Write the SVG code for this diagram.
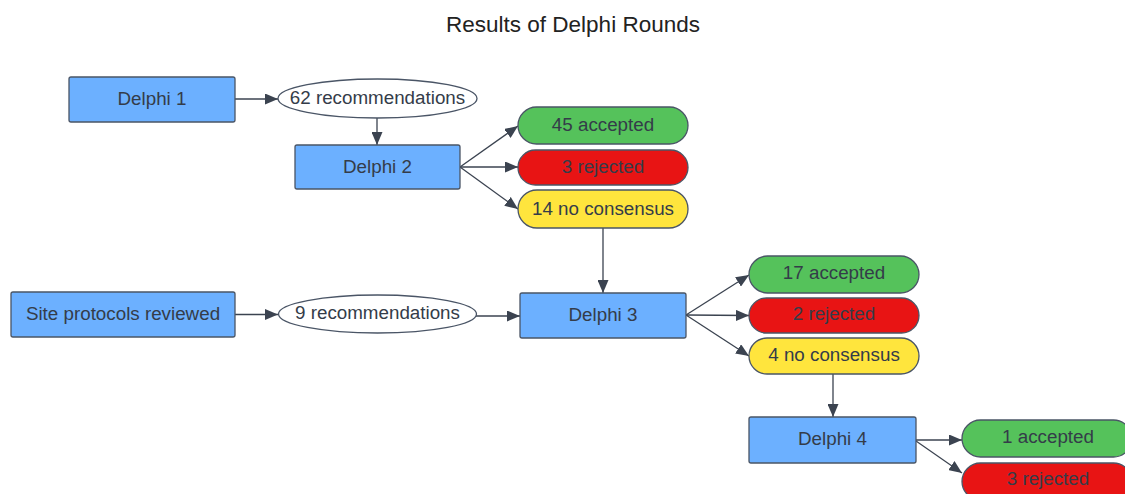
<svg xmlns="http://www.w3.org/2000/svg" width="1125" height="494" viewBox="0 0 1125 494">
<defs>
<marker id="ah" viewBox="0 0 13 11" refX="13" refY="5.5" markerWidth="13" markerHeight="11" markerUnits="userSpaceOnUse" orient="auto">
<path d="M0,0 L13,5.5 L0,11 Z" fill="#3b4350"/>
</marker>
<style>
text{font-family:"Liberation Sans",Arial,sans-serif;font-size:18.8px;fill:#343c49;text-anchor:middle;dominant-baseline:central}
.box{fill:#6cb0ff;stroke:#4a5566;stroke-width:1.3}
.oval{fill:#ffffff;stroke:#4a5566;stroke-width:1.3}
.acc{fill:#55c25b;stroke:#4a5566;stroke-width:1.3}
.rej{fill:#e81414;stroke:#4a5566;stroke-width:1.3}
.nc{fill:#ffe53d;stroke:#4a5566;stroke-width:1.3}
.c{stroke:#3b4350;stroke-width:1.3;fill:none;marker-end:url(#ah)}
.title{font-size:22.5px;fill:#222222}
</style>
</defs>
<rect width="1125" height="494" fill="#ffffff"/>
<text class="title" x="573" y="24">Results of Delphi Rounds</text>

<g id="connectors">
<line class="c" x1="235" y1="99" x2="278" y2="99"/>
<line class="c" x1="377" y1="118" x2="377" y2="145"/>
<line class="c" x1="460" y1="167" x2="518" y2="126"/>
<line class="c" x1="460" y1="167" x2="518" y2="167"/>
<line class="c" x1="460" y1="167" x2="518" y2="209"/>
<line class="c" x1="603" y1="228" x2="603" y2="293"/>
<line class="c" x1="235" y1="314.5" x2="278" y2="314.5"/>
<line class="c" x1="476" y1="316" x2="520" y2="316"/>
<line class="c" x1="686" y1="315" x2="749" y2="275"/>
<line class="c" x1="686" y1="315" x2="749" y2="315.5"/>
<line class="c" x1="686" y1="315" x2="749" y2="356"/>
<line class="c" x1="833" y1="374" x2="833" y2="417"/>
<line class="c" x1="916" y1="440" x2="962" y2="440"/>
<line class="c" x1="916" y1="441" x2="962" y2="473"/>
</g>

<g id="delphi1"><rect class="box" x="69" y="77" width="166" height="45" rx="2"/><text x="152" y="98.5">Delphi 1</text></g>
<g id="rec62"><ellipse class="oval" cx="377.5" cy="98.5" rx="99.5" ry="19.5"/><text x="377.5" y="97.5">62 recommendations</text></g>
<g id="delphi2"><rect class="box" x="295" y="145" width="165" height="44" rx="2"/><text x="377.5" y="166">Delphi 2</text></g>
<g id="acc45"><rect class="acc" x="518" y="107" width="170" height="37" rx="18.5"/><text x="603" y="124.5">45 accepted</text></g>
<g id="rej3a"><rect class="rej" x="518" y="150" width="170" height="35" rx="17.5"/><text x="603" y="166.5">3 rejected</text></g>
<g id="nc14"><rect class="nc" x="518" y="190" width="170" height="38" rx="19"/><text x="603" y="208">14 no consensus</text></g>

<g id="site"><rect class="box" x="11" y="292" width="224" height="45" rx="2"/><text x="123" y="313.5">Site protocols reviewed</text></g>
<g id="rec9"><ellipse class="oval" cx="377.5" cy="314" rx="99" ry="19"/><text x="377.5" y="312">9 recommendations</text></g>
<g id="delphi3"><rect class="box" x="520" y="293" width="166" height="45" rx="2"/><text x="603" y="314.5">Delphi 3</text></g>
<g id="acc17"><rect class="acc" x="749" y="256" width="170" height="37" rx="18.5"/><text x="834" y="272.5">17 accepted</text></g>
<g id="rej2"><rect class="rej" x="749" y="298" width="170" height="35" rx="17.5"/><text x="834" y="313.5">2 rejected</text></g>
<g id="nc4"><rect class="nc" x="749" y="338" width="170" height="36" rx="18"/><text x="834" y="354">4 no consensus</text></g>

<g id="delphi4"><rect class="box" x="749" y="417" width="167" height="46" rx="2"/><text x="832.5" y="438">Delphi 4</text></g>
<g id="acc1"><rect class="acc" x="962" y="420" width="170" height="37" rx="18.5"/><text x="1048" y="436">1 accepted</text></g>
<g id="rej3b"><rect class="rej" x="962" y="463" width="170" height="37" rx="18.5"/><text x="1048" y="478">3 rejected</text></g>
</svg>
